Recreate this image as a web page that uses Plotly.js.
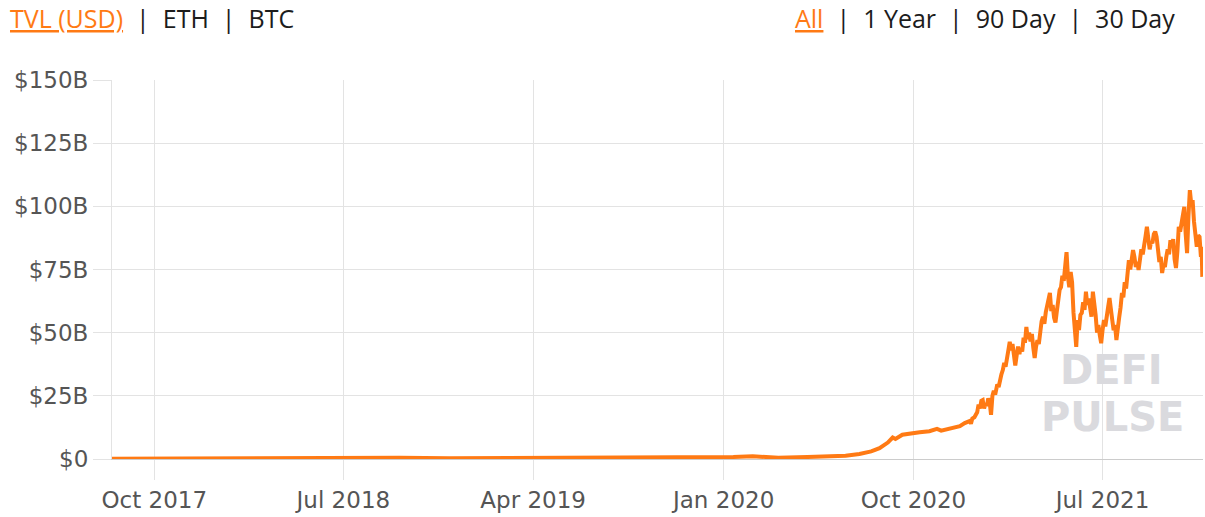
<!DOCTYPE html>
<html>
<head>
<meta charset="utf-8">
<script src="https://cdn.plot.ly/plotly-3.0.1.min.js"></script>
<style>
  html, body { margin: 0; padding: 0; background: #ffffff; }
  #chart { width: 1205px; height: 517px; }
</style>
</head>
<body>
<div id="chart"></div>
<script>
// ---- data (TVL in billions USD) ----
const dates = [
  "2017-08-01","2017-10-01","2017-12-15","2018-01-15","2018-03-01","2018-06-01",
  "2018-09-05","2018-09-12","2018-09-20","2018-12-01","2019-03-01","2019-06-01",
  "2019-09-01","2019-12-01","2020-01-15","2020-02-12","2020-03-12","2020-03-20",
  "2020-05-01","2020-06-10","2020-06-25","2020-07-15","2020-08-01","2020-08-13",
  "2020-08-25","2020-09-01","2020-09-05","2020-09-15","2020-09-30","2020-10-10",
  "2020-10-24","2020-11-04","2020-11-10","2020-11-18","2020-11-26","2020-12-07",
  "2020-12-14","2020-12-21","2020-12-23","2020-12-25","2020-12-28","2020-12-30",
  "2021-01-01","2021-01-03","2021-01-05","2021-01-07","2021-01-09","2021-01-11",
  "2021-01-13","2021-01-15","2021-01-17","2021-01-19","2021-01-21","2021-01-23",
  "2021-01-25","2021-01-27","2021-01-30","2021-02-01","2021-02-03","2021-02-05",
  "2021-02-07","2021-02-09","2021-02-11","2021-02-13","2021-02-15","2021-02-17",
  "2021-02-19","2021-02-21","2021-02-23","2021-02-25","2021-02-27","2021-03-01",
  "2021-03-03","2021-03-05","2021-03-07","2021-03-09","2021-03-11","2021-03-13",
  "2021-03-15","2021-03-17","2021-03-19","2021-03-21","2021-03-23","2021-03-25",
  "2021-03-27","2021-03-29","2021-03-31","2021-04-02","2021-04-04","2021-04-06",
  "2021-04-08","2021-04-10","2021-04-12","2021-04-14","2021-04-16","2021-04-18",
  "2021-04-20","2021-04-22","2021-04-24","2021-04-26","2021-04-28","2021-04-30",
  "2021-05-02","2021-05-04","2021-05-06","2021-05-08","2021-05-10","2021-05-12",
  "2021-05-14","2021-05-16","2021-05-18","2021-05-20","2021-05-22","2021-05-24",
  "2021-05-26","2021-05-28","2021-05-30","2021-06-01","2021-06-03","2021-06-05",
  "2021-06-07","2021-06-09","2021-06-11","2021-06-13","2021-06-15","2021-06-17",
  "2021-06-19","2021-06-21","2021-06-23","2021-06-25","2021-06-27","2021-06-29",
  "2021-07-01","2021-07-03","2021-07-05","2021-07-07","2021-07-09","2021-07-11",
  "2021-07-13","2021-07-15","2021-07-17","2021-07-19","2021-07-21","2021-07-23",
  "2021-07-25","2021-07-27","2021-07-29","2021-07-31","2021-08-02","2021-08-04",
  "2021-08-06","2021-08-08","2021-08-10","2021-08-12","2021-08-14","2021-08-16",
  "2021-08-18","2021-08-20","2021-08-22","2021-08-24","2021-08-26","2021-08-28",
  "2021-08-30","2021-09-01","2021-09-03","2021-09-05","2021-09-07","2021-09-09",
  "2021-09-11","2021-09-13","2021-09-15","2021-09-17","2021-09-19","2021-09-21",
  "2021-09-23","2021-09-25","2021-09-27","2021-09-29","2021-10-01","2021-10-03",
  "2021-10-05","2021-10-07","2021-10-09","2021-10-11","2021-10-13","2021-10-15",
  "2021-10-17","2021-10-19","2021-10-21","2021-10-23","2021-10-25","2021-10-27",
  "2021-10-29","2021-10-31","2021-11-02","2021-11-04","2021-11-06","2021-11-08",
  "2021-11-10","2021-11-12","2021-11-14","2021-11-16","2021-11-18","2021-11-20",
  "2021-11-21","2021-11-22"
];
const tvl = [
  0.05,0.1,0.2,0.35,0.3,0.3,
  0.45,0.75,0.45,0.3,0.4,0.5,
  0.5,0.6,0.8,1.1,0.6,0.5,
  0.8,1.0,1.3,2.0,3.0,4.3,
  6.5,8.5,7.9,9.6,10.3,10.6,
  11.0,11.9,11.2,11.8,12.3,13.0,
  14.2,15.0,14.0,16.0,16.5,18.0,
  18.5,21.5,20.0,23.0,23.3,20.0,
  22.0,21.0,24.0,22.5,17.5,25.0,
  27.0,25.5,29.5,28.5,32.0,33.5,
  35.2,38.0,36.5,41.0,43.0,46.4,
  43.0,45.5,40.0,37.0,41.0,44.5,
  41.5,44.0,42.5,48.0,46.0,52.3,
  47.5,50.0,46.5,49.5,44.0,40.0,
  44.5,47.0,45.5,52.0,54.5,56.3,
  53.5,58.0,60.5,63.0,65.7,58.5,
  61.0,56.0,54.0,58.5,63.0,66.9,
  68.0,72.5,70.5,77.0,81.9,72.0,
  68.0,74.0,70.0,58.0,52.0,44.4,
  55.0,51.0,57.0,57.8,62.0,59.0,
  66.2,61.0,63.5,58.0,56.3,66.2,
  59.0,57.0,50.0,53.0,49.0,45.8,
  51.0,55.0,52.5,58.0,60.0,63.7,
  57.0,55.0,51.0,53.0,47.1,53.0,
  56.0,60.0,65.7,64.0,70.0,67.5,
  73.0,78.7,75.0,78.0,82.7,80.0,
  76.0,78.0,74.8,79.0,83.0,81.0,
  86.0,88.0,91.9,88.0,83.0,86.0,
  85.4,89.0,90.0,87.9,84.0,78.0,
  80.0,73.6,77.0,76.0,80.0,83.0,
  81.0,86.6,84.0,87.0,79.0,75.6,
  82.0,91.9,90.0,94.0,97.0,99.8,
  89.0,81.5,96.0,106.4,101.0,102.5,
  94.0,90.0,84.0,88.5,87.9,80.0,
  84.0,72.1
];
const yTickVals = [0, 25, 50, 75, 100, 125, 150];
const yTickText = ["$0", "$25B", "$50B", "$75B", "$100B", "$125B", "$150B"];
const metricTabs = ["TVL (USD)", "ETH", "BTC"];
const rangeTabs = ["All", "1 Year", "90 Day", "30 Day"];
const watermark = ["DEFI", "PULSE"];

const ORANGE = "#ff7a14";
const tickFont = { family: "DejaVu Sans, Liberation Sans, Arial, sans-serif", size: 23, color: "#555555" };
const headFont = { family: "Open Sans, DejaVu Sans, sans-serif", size: 25, color: "#1c1c1c" };

function tabsHtml(tabs) {
  return tabs.map((t, i) => i === 0
    ? '<span style="color:' + ORANGE + ';text-decoration:underline">' + t + '</span>'
    : t).join("  |  ");
}

const trace = {
  x: dates, y: tvl, type: "scatter", mode: "lines",
  line: { color: ORANGE, width: 4 },
  hoverinfo: "skip"
};

const layout = {
  width: 1205, height: 517,
  margin: { l: 112, r: 2, t: 80, b: 58 },
  paper_bgcolor: "#ffffff", plot_bgcolor: "#ffffff",
  showlegend: false,
  xaxis: {
    type: "date",
    range: ["2017-08-01", "2021-11-23"],
    tick0: "2017-10-01", dtick: "M9", tickformat: "%b %Y",
    showgrid: true, gridcolor: "#e3e3e3", gridwidth: 1,
    ticks: "outside", ticklen: 20, tickcolor: "#e3e3e3",
    showline: true, linecolor: "#cccccc", linewidth: 1,
    zeroline: false, tickfont: tickFont, fixedrange: true
  },
  yaxis: {
    range: [0, 150],
    tickvals: yTickVals, ticktext: yTickText,
    showgrid: true, gridcolor: "#e3e3e3", gridwidth: 1,
    ticks: "outside", ticklen: 18, tickcolor: "#e3e3e3",
    showline: true, linecolor: "#e3e3e3", linewidth: 1,
    zeroline: false, tickfont: tickFont, fixedrange: true
  },
  annotations: [
    { xref: "paper", yref: "paper", x: -0.0953, y: 1.1636, xanchor: "left", yanchor: "middle",
      text: tabsHtml(metricTabs), showarrow: false, font: headFont },
    { xref: "paper", yref: "paper", x: 0.9762, y: 1.1636, xanchor: "right", yanchor: "middle",
      text: tabsHtml(rangeTabs), showarrow: false, font: headFont },
    { xref: "paper", yref: "paper", x: 0.9157, y: 0.2348, xanchor: "center", yanchor: "middle",
      text: "<b>" + watermark[0] + "</b>", showarrow: false,
      font: { family: "DejaVu Sans, sans-serif", size: 40, color: "#dadade" } },
    { xref: "paper", yref: "paper", x: 0.9166, y: 0.1108, xanchor: "center", yanchor: "middle",
      text: "<b>" + watermark[1] + "</b>", showarrow: false,
      font: { family: "DejaVu Sans, sans-serif", size: 40, color: "#dadade" } }
  ]
};

Plotly.newPlot("chart", [trace], layout, { displayModeBar: false, staticPlot: true });
</script>
</body>
</html>
